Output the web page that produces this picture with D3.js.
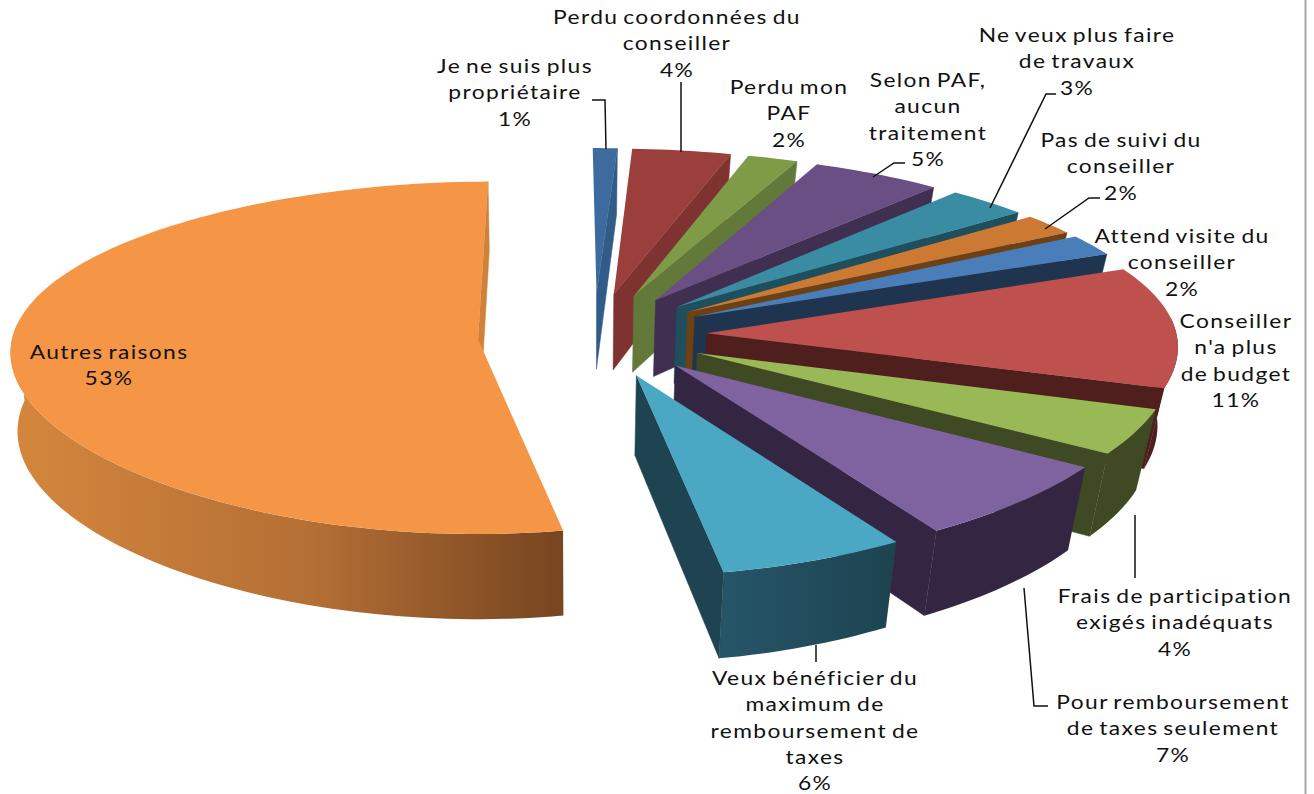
<!DOCTYPE html>
<html>
<head>
<meta charset="utf-8">
<script src="https://cdn.jsdelivr.net/npm/d3@7"></script>
<style>
  html, body { margin: 0; padding: 0; background: #fff; }
  svg { display: block; }
  text { font-family: Lato, "Open Sans", sans-serif; font-size: 20px; letter-spacing: 1.2px; word-spacing: -2px; fill: #111; }
</style>
</head>
<body>
<div id="chart"></div>
<script>
// Values, clockwise from 12 o'clock.
// The last two are estimated from the slice edges, their labels show them rounded.
const categories = [
  "Je ne suis plus propriétaire", "Perdu coordonnées du conseiller", "Perdu mon PAF",
  "Selon PAF, aucun traitement", "Ne veux plus faire de travaux", "Pas de suivi du conseiller",
  "Attend visite du conseiller", "Conseiller n'a plus de budget", "Frais de participation exigés inadéquats",
  "Pour remboursement de taxes seulement", "Veux bénéficier du maximum de remboursement de taxes", "Autres raisons"
];
const percents = [1, 4, 2, 5, 3, 2, 2, 11, 4, 7, 6.2, 52.8];
const explosions = [0.24, 0.24, 0.24, 0.24, 0.24, 0.24, 0.24, 0.24, 0.24, 0.24, 0.24, 0.25];

const topColors = ["#3e6b9f", "#9b3f3c", "#7e9b48", "#6a4f84", "#3a8ca3", "#cc7a33", "#4a7ebb", "#be504d", "#98b955", "#7f63a1", "#4aa8c4", "#f59646"];
const wallColors = ["#335b88", "#7f3331", "#62793a", "#412f51", "#1f4e5c", "#6e4015", "#1f344f", "#4e1f1d", "#3f4a24", "#342642", "#1e4451", "#d08238"];

// How each label is broken in lines, centre x, first baseline
const labelLines = [
  ["Je ne suis plus", "propriétaire", "1%"],
  ["Perdu coordonnées du", "conseiller", "4%"],
  ["Perdu mon", "PAF", "2%"],
  ["Selon PAF,", "aucun", "traitement", "5%"],
  ["Ne veux plus faire", "de travaux", "3%"],
  ["Pas de suivi du", "conseiller", "2%"],
  ["Attend visite du", "conseiller", "2%"],
  ["Conseiller", "n'a plus", "de budget", "11%"],
  ["Frais de participation", "exigés inadéquats", "4%"],
  ["Pour remboursement", "de taxes seulement", "7%"],
  ["Veux bénéficier du", "maximum de", "remboursement de", "taxes", "6%"],
  ["Autres raisons", "53%"]
];
const labelX = [515, 677, 789, 928, 1077, 1121, 1182, 1236, 1175, 1173, 815, 109];
const labelY = [73, 24, 94, 87, 42, 147, 243, 328, 603, 709, 685, 359];

// Leader lines
const leaders = [
  [[606, 149], [605, 100], [592, 100]],
  [[681, 152], [681, 82]],
  [[873, 177], [894, 163], [905, 163]],
  [[990, 208], [1046, 94], [1056, 94]],
  [[1045, 229], [1089, 198], [1100, 198]],
  [[1135, 515], [1135, 578]],
  [[1024, 588], [1034, 706], [1048, 706]],
  [[816, 645], [816, 662]]
];

const width = 1314, height = 794;
const cx = 594, cy = 335;
const radiusX = 470, radiusY = 178;
const rotation = -0.5 * Math.PI / 180;
const depth = 78;

const svg = d3.select("#chart").append("svg")
  .attr("width", width)
  .attr("height", height);

// left half slightly narrower than the right one
const x = d3.scaleLinear().domain([-1, 0, 1]).range([cx - radiusX * 0.99, cx, cx + radiusX]);
const y = d3.scaleLinear().domain([-1, 1]).range([cy + radiusY, cy - radiusY]);
const topColor = d3.scaleOrdinal(categories, topColors);
const wallColor = d3.scaleOrdinal(categories, wallColors);

// Rough perspective: the back of the pie is smaller than the front
function perspX(v) { return 1 - 0.07 * v - 0.05 * v * v; }
function perspY(v) { return 1 - 0.105 * v - 0.015 * v * v; }

// u, v in pie units (v goes to the back), z = 0 top face, 1 bottom face
function project(u, v, z) {
  const px = x(u * perspX(v)), py = y(v * perspY(v)) + z * depth * perspY(v);
  const shrink = px < cx ? 0.012 : 0.035;
  return [cx + (px - cx) * (1 - shrink * z), py];
}

const pie = d3.pie().sort(null).value(d => d)
  .startAngle(rotation).endAngle(2 * Math.PI + rotation)(percents);
const line = d3.line();

function apex(d, i) {
  const mid = (d.startAngle + d.endAngle) / 2;
  return [explosions[i] * Math.sin(mid), explosions[i] * Math.cos(mid)];
}

function arcAngles(d) {
  const n = Math.max(4, Math.ceil((d.endAngle - d.startAngle) * 40));
  return d3.range(n + 1).map(i => d.startAngle + (d.endAngle - d.startAngle) * i / n);
}

// Gradients on the curved walls of the two front slices
const defs = svg.append("defs");
const orangeGrad = defs.append("linearGradient").attr("id", "orangeWall")
  .attr("gradientUnits", "userSpaceOnUse").attr("x1", 15).attr("x2", 555).attr("y1", 0).attr("y2", 0);
orangeGrad.append("stop").attr("offset", "0").attr("stop-color", "#d4863c");
orangeGrad.append("stop").attr("offset", "0.55").attr("stop-color", "#b46f35");
orangeGrad.append("stop").attr("offset", "1").attr("stop-color", "#784620");
const cyanGrad = defs.append("linearGradient").attr("id", "cyanWall")
  .attr("gradientUnits", "userSpaceOnUse").attr("x1", 725).attr("x2", 895).attr("y1", 0).attr("y2", 0);
cyanGrad.append("stop").attr("offset", "0").attr("stop-color", "#265568");
cyanGrad.append("stop").attr("offset", "1").attr("stop-color", "#1d4350");

// Slices are painted clockwise, each one covers the wall of the previous
const g = svg.append("g");
pie.forEach((d, i) => {
  const name = categories[i];
  const o = apex(d, i);
  const angles = arcAngles(d);
  const rim = a => [o[0] + Math.sin(a), o[1] + Math.cos(a)];
  const endPt = rim(d.endAngle);

  // outer curved wall, only the part that faces the viewer
  const frontAngles = angles.filter(a => Math.cos(a) < 0.1);
  if (frontAngles.length > 1) {
    const wallTop = frontAngles.map(a => project(rim(a)[0], rim(a)[1], 0));
    const wallBottom = frontAngles.map(a => project(rim(a)[0], rim(a)[1], 1)).reverse();
    let rimFill = wallColor(name);
    if (i === 11) rimFill = "url(#orangeWall)";
    if (i === 10) rimFill = "url(#cyanWall)";
    g.append("path")
      .attr("d", line(wallTop.concat(wallBottom)) + "Z")
      .attr("fill", rimFill);
  }

  // radial wall on the clockwise side
  g.append("path")
    .attr("d", line([
      project(o[0], o[1], 0), project(endPt[0], endPt[1], 0),
      project(endPt[0], endPt[1], 1), project(o[0], o[1], 1)
    ]) + "Z")
    .attr("fill", wallColor(name))
    .attr("stroke", wallColor(name))
    .attr("stroke-width", 0.5);

  // top face
  const rimTop = angles.map(a => project(rim(a)[0], rim(a)[1], 0));
  g.append("path")
    .attr("d", line([project(o[0], o[1], 0)].concat(rimTop)) + "Z")
    .attr("fill", topColor(name));
});

// Leader lines
svg.append("g").selectAll("path")
  .data(leaders)
  .join("path")
  .attr("d", d => line(d))
  .attr("fill", "none")
  .attr("stroke", "#111")
  .attr("stroke-width", 1.5);

// Data labels, stretched sideways like in the source picture
labelLines.forEach((lines, i) => {
  svg.append("g")
    .attr("transform", `translate(${labelX[i]},0) scale(1.14,1)`)
    .append("text")
    .attr("text-anchor", "middle")
    .selectAll("tspan")
    .data(lines)
    .join("tspan")
    .attr("x", 0)
    .attr("y", (d, j) => labelY[i] + j * 26.3)
    .text(d => d);
});

// Right border of the chart area
svg.append("line")
  .attr("x1", 1305.5).attr("x2", 1305.5)
  .attr("y1", 0).attr("y2", height)
  .attr("stroke", "#a6a6a6")
  .attr("stroke-width", 2);
</script>
</body>
</html>
